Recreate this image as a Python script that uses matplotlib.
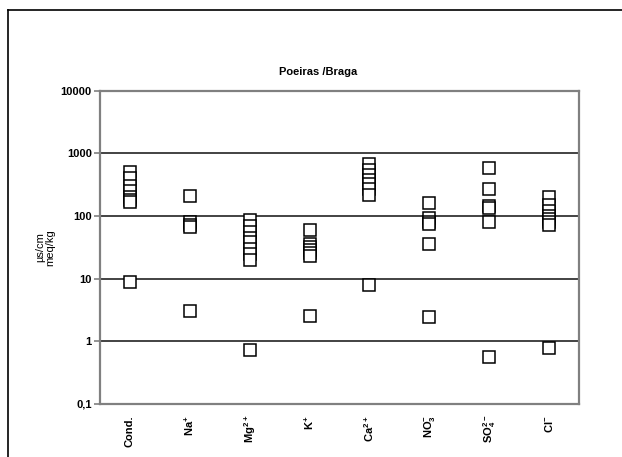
import numpy as np
import matplotlib.pyplot as plt
from matplotlib.lines import Line2D

plt.rcParams['font.family'] = ['Liberation Sans', 'DejaVu Sans']
plt.rcParams['font.weight'] = 'bold'
plt.rcParams['mathtext.fontset'] = 'custom'
plt.rcParams['mathtext.rm'] = 'Liberation Sans:bold'
plt.rcParams['mathtext.default'] = 'rm'

# categories and measured values (uS/cm for Cond., meq/kg for ions)
categories = ['Cond.', 'Na$^{+}$', 'Mg$^{2+}$', 'K$^{+}$', 'Ca$^{2+}$',
              'NO$_3^{-}$', 'SO$_4^{2-}$', 'Cl$^{-}$']
cond = [500, 400, 300, 250, 200, 180, 168, 9]
na = [210, 80, 72, 68, 3.0]
mg = [87, 70, 55, 45, 38, 30, 25, 20, 0.72]
k = [60, 36, 32, 29, 26, 23, 2.55]
ca = [680, 550, 450, 380, 320, 270, 220, 7.9]
no3 = [164, 93, 80, 75, 36, 2.46]
so4 = [577, 270, 145, 135, 81, 0.57]
cl = [202, 150, 120, 100, 90, 80, 71, 0.79]
series = [cond, na, mg, k, ca, no3, so4, cl]

fig = plt.figure(figsize=(6.22, 4.57), dpi=100)
ax = fig.add_axes([0.1608, 0.116, 0.7701, 0.6855])

for i, vals in enumerate(series):
    ax.plot(np.full(len(vals), i), vals, 's', ms=8.5, mfc='white',
            mec='black', mew=1.1, ls='none', zorder=3)

ax.set_yscale('log')
ax.set_ylim(0.1, 10000)
ax.set_xlim(-0.5, len(categories) - 0.5)
ax.set_yticks([0.1, 1, 10, 100, 1000, 10000])
ax.set_yticklabels(['0,1', '1', '10', '100', '1000', '10000'])
ax.yaxis.set_minor_locator(plt.NullLocator())
ax.set_xticks(range(len(categories)))
ax.set_xticklabels(categories, rotation=90, fontsize=8)
ax.tick_params(axis='x', length=0, pad=8)
ax.tick_params(axis='y', length=4, width=1.2, color='#808080',
               labelsize=8, pad=2)

for v in [1, 10, 100, 1000]:
    ax.axhline(v, color='#222222', lw=1.2, zorder=1)

for s in ax.spines.values():
    s.set_color('#808080')
    s.set_linewidth(1.6)

ax.set_ylabel('µs/cm\nmeq/kg', fontsize=8, labelpad=4, linespacing=1.0)
fig.text(0.512, 0.842, 'Poeiras /Braga', ha='center', va='center',
         fontsize=8, fontweight='bold')

# outer frame (top and left edges visible)
fig.add_artist(Line2D([0.0125, 1.0], [0.978, 0.978], color='black', lw=1.2,
                      transform=fig.transFigure))
fig.add_artist(Line2D([0.0125, 0.0125], [0.0, 0.978], color='black', lw=1.2,
                      transform=fig.transFigure))

fig.savefig('out.png', dpi=100)
